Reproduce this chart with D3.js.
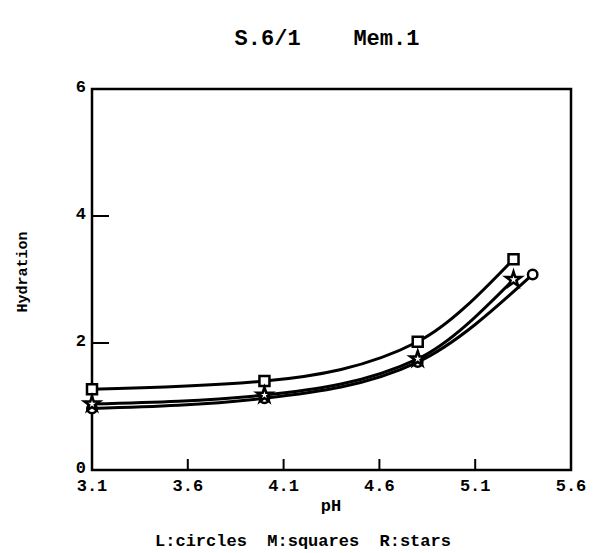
<!DOCTYPE html>
<html>
<head>
<meta charset="utf-8">
<script src="https://cdn.jsdelivr.net/npm/d3@7"></script>
<style>
  body { margin: 0; background: #fff; }
  text { font-family: "Liberation Mono", "DejaVu Sans Mono", monospace; font-weight: bold; fill: #000; }
</style>
</head>
<body>
<svg id="chart" width="599" height="553"></svg>
<script>
// Values
const pHL = [3.1, 4.0, 4.8, 5.4];
const hydrationL = [0.97, 1.13, 1.70, 3.08];  // circles
const pHM = [3.1, 4.0, 4.8, 5.3];
const hydrationM = [1.27, 1.40, 2.02, 3.32];  // squares
const pHR = [3.1, 4.0, 4.8, 5.3];
const hydrationR = [1.04, 1.18, 1.75, 3.0];   // stars

const xTicks = [3.1, 3.6, 4.1, 4.6, 5.1, 5.6];
const yTicks = [0, 2, 4, 6];

const series = [
    { name: "L", symbol: d3.symbolCircle, size: 70, x: pHL, y: hydrationL },
    { name: "M", symbol: d3.symbolSquare, size: 100, x: pHM, y: hydrationM },
    { name: "R", symbol: d3.symbolStar, size: 70, x: pHR, y: hydrationR }
];

const svg = d3.select("#chart");
const plot = { left: 92, right: 571, top: 89, bottom: 470 };

const x = d3.scaleLinear().domain([3.1, 5.6]).range([plot.left, plot.right]);
const y = d3.scaleLinear().domain([0, 6]).range([plot.bottom, plot.top]);

// Title
svg.append("text")
    .attr("x", 327).attr("y", 45)
    .attr("text-anchor", "middle")
    .style("font-size", "22px")
    .attr("xml:space", "preserve")
    .text("S.6/1    Mem.1");

// Frame
svg.append("rect")
    .attr("x", plot.left).attr("y", plot.top)
    .attr("width", plot.right - plot.left)
    .attr("height", plot.bottom - plot.top)
    .attr("fill", "none")
    .attr("stroke", "#000")
    .attr("stroke-width", 2.5);

// Inner ticks
svg.selectAll(".xtick")
    .data(xTicks.slice(1, -1))
    .enter().append("line")
    .attr("x1", d => x(d)).attr("x2", d => x(d))
    .attr("y1", plot.bottom).attr("y2", plot.bottom - 11)
    .attr("stroke", "#000").attr("stroke-width", 2);

svg.selectAll(".ytick")
    .data(yTicks.slice(1, -1))
    .enter().append("line")
    .attr("x1", plot.left).attr("x2", plot.left + 17)
    .attr("y1", d => y(d)).attr("y2", d => y(d))
    .attr("stroke", "#000").attr("stroke-width", 2);

// Tick labels
svg.selectAll(".xlab")
    .data(xTicks)
    .enter().append("text")
    .attr("x", d => x(d)).attr("y", plot.bottom + 21)
    .attr("text-anchor", "middle")
    .style("font-size", "17px")
    .text(d => d.toFixed(1));

svg.selectAll(".ylab")
    .data(yTicks)
    .enter().append("text")
    .attr("x", plot.left - 6).attr("y", d => y(d) + 3)
    .attr("text-anchor", "end")
    .style("font-size", "17px")
    .text(d => d);

// Axis titles
svg.append("text")
    .attr("x", 331).attr("y", 511)
    .attr("text-anchor", "middle")
    .style("font-size", "17px")
    .text("pH");

svg.append("text")
    .attr("transform", "translate(27, 272) rotate(-90)")
    .attr("text-anchor", "middle")
    .style("font-size", "15px")
    .text("Hydration");

// Lines
const line = d3.line()
    .x(d => x(d[0]))
    .y(d => y(d[1]))
    .curve(d3.curveMonotoneX);

series.forEach(s => {
    const pts = s.x.map((v, i) => [v, s.y[i]]);
    svg.append("path")
        .datum(pts)
        .attr("d", line)
        .attr("fill", "none")
        .attr("stroke", "#000")
        .attr("stroke-width", 3);
});

// Markers
series.forEach(s => {
    const pts = s.x.map((v, i) => [v, s.y[i]]);
    svg.selectAll(".m" + s.name)
        .data(pts)
        .enter().append("path")
        .attr("d", d3.symbol().type(s.symbol).size(s.size))
        .attr("transform", d => `translate(${x(d[0])},${y(d[1])})`)
        .attr("fill", "#fff")
        .attr("stroke", "#000")
        .attr("stroke-width", 2.5);
});

// Legend text
svg.append("text")
    .attr("x", 303).attr("y", 546)
    .attr("text-anchor", "middle")
    .style("font-size", "17px")
    .attr("xml:space", "preserve")
    .text("L:circles  M:squares  R:stars");
</script>
</body>
</html>
